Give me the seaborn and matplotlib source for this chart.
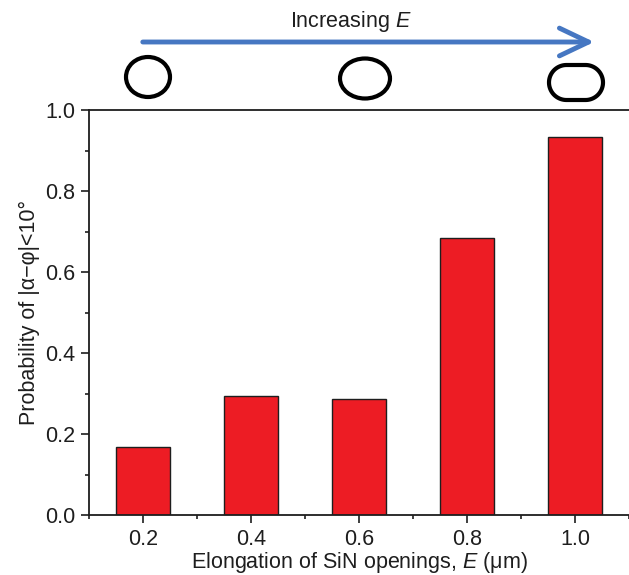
import matplotlib
matplotlib.use("Agg")
import matplotlib.pyplot as plt
import numpy as np
from matplotlib.patches import Ellipse, Polygon, FancyArrowPatch
from matplotlib.ticker import AutoMinorLocator
import seaborn as sns
import pandas as pd

# Elongation of SiN openings (um) and probability of |alpha - phi| < 10 deg
elongation = [0.2, 0.4, 0.6, 0.8, 1.0]
probability = [0.167, 0.294, 0.286, 0.684, 0.933]
x_ticks = [0.2, 0.4, 0.6, 0.8, 1.0]
y_ticks = [0.0, 0.2, 0.4, 0.6, 0.8, 1.0]

sns.set_theme(style="white")
plt.rcParams["font.family"] = ["Liberation Sans", "DejaVu Sans"]
plt.rcParams["mathtext.fontset"] = "custom"
plt.rcParams["mathtext.it"] = "Liberation Sans:italic"
plt.rcParams["mathtext.rm"] = "Liberation Sans"

FS = 15.5
INK = "#1e1e1e"

df = pd.DataFrame({"E": elongation, "P": probability})

W, H = 629, 575
fig = plt.figure(figsize=(W / 100, H / 100), dpi=100)
ax = fig.add_axes([89 / W, 1 - 515 / H, 540 / W, 405 / H])

sns.barplot(data=df, x="E", y="P", native_scale=True, width=0.5,
            color="#ED1C24", saturation=1, edgecolor=INK, linewidth=1.0,
            ax=ax, errorbar=None)

ax.set_xlim(0.1, 1.1)
ax.set_ylim(0.0, 1.0)
ax.set_xticks(x_ticks)
ax.set_xticklabels([f"{v:.1f}" for v in x_ticks])
ax.set_yticks(y_ticks)
ax.set_yticklabels([f"{v:.1f}" for v in y_ticks])
ax.xaxis.set_minor_locator(AutoMinorLocator(2))
ax.yaxis.set_minor_locator(AutoMinorLocator(2))

for side in ["left", "bottom", "top"]:
    ax.spines[side].set_color(INK)
    ax.spines[side].set_linewidth(1.3)
ax.spines["right"].set_visible(False)

ax.tick_params(axis="both", which="major", direction="out", length=5.8,
               width=1.2, color=INK, labelsize=FS, pad=4,
               bottom=True, left=True, labelcolor=INK)
ax.tick_params(axis="both", which="minor", direction="out", length=3,
               width=1.2, color=INK, bottom=True, left=True)

ax.set_xlabel(r"Elongation of SiN openings, $\mathit{E}$ (μm)", fontsize=FS,
              color=INK, labelpad=0)
ax.set_ylabel("Probability of |α−φ|<10°", fontsize=FS, color=INK,
              labelpad=4)

# Opening shapes above the plot, positioned in pixel space (inches)
px = fig.dpi_scale_trans


def at(x, y):
    return x / 100, (H - y) / 100


ax.add_patch(Ellipse(at(148, 77), 0.44, 0.40, transform=px,
                     fill=False, lw=3, ec="black", clip_on=False))
ax.add_patch(Ellipse(at(365, 78.5), 0.50, 0.40, transform=px,
                     fill=False, lw=3, ec="black", clip_on=False))

# Stadium outline: two semicircular ends joined by straight sides
sw, sh = 0.54, 0.35
r = sh / 2
scx, scy = at(576, 82.5)
a = sw / 2 - r
t_right = np.linspace(-np.pi / 2, np.pi / 2, 60)
t_left = np.linspace(np.pi / 2, 3 * np.pi / 2, 60)
outline = np.vstack([
    np.column_stack([scx + a + r * np.cos(t_right), scy + r * np.sin(t_right)]),
    np.column_stack([scx - a + r * np.cos(t_left), scy + r * np.sin(t_left)]),
])
ax.add_patch(Polygon(outline, closed=True, transform=px, fill=False, lw=3,
                     ec="black", clip_on=False))

arrow = FancyArrowPatch(at(140, 42), at(597, 42), transform=px,
                        arrowstyle="->,head_length=0.21,head_width=0.10",
                        mutation_scale=100, lw=3.5, color="#4677C2",
                        clip_on=False)
fig.add_artist(arrow)

fig.text(351 / W, 1 - 22 / H, r"Increasing $\mathit{E}$", ha="center",
         va="center", fontsize=FS, color=INK)

fig.savefig("out.png", dpi=100, facecolor="white")
